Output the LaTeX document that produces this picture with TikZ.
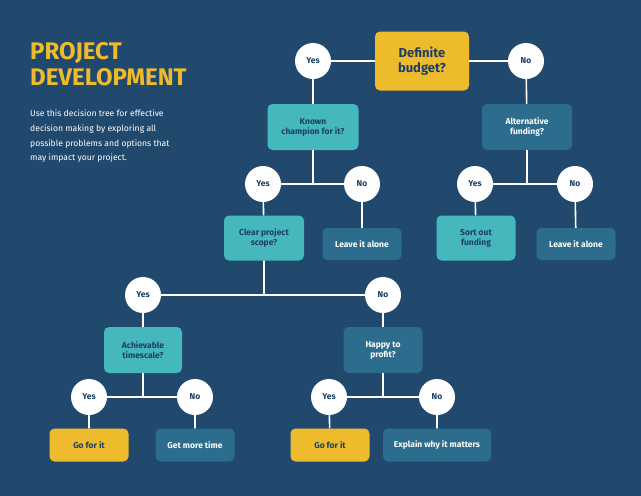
\documentclass[tikz,border=0pt]{standalone}
\usepackage{fontspec}
\setmainfont{Fira Sans}
\begin{document}
\begin{tikzpicture}[x=1pt,y=-1pt,
  box/.style={rounded corners=5pt,align=center,font=\fontsize{8.5}{10}\selectfont\bfseries,inner sep=0pt},
  tealbox/.style={box,fill=teal1,text=navy},
  bluebox/.style={box,fill=blue2,text=white},
  yelbox/.style={box,fill=yel,text=navy},
  ans/.style={circle,fill=white,text=navy,minimum size=36pt,inner sep=0pt,font=\fontsize{8.5}{10}\selectfont\bfseries},
  ln/.style={draw=white,line width=1.6pt}]
\definecolor{bg}{HTML}{21496D}
\definecolor{teal1}{HTML}{45B8BE}
\definecolor{blue2}{HTML}{2C6C8D}
\definecolor{yel}{HTML}{EEBB2C}
\definecolor{navy}{HTML}{1D3F63}
\fill[bg] (0,0) rectangle (641,496);
\useasboundingbox (0,0) rectangle (641,496);
\node[anchor=north west,text=yel,font=\fontsize{24}{26}\selectfont\bfseries,align=left,inner sep=0pt] (title) at (30,42) {PROJECT\\DEVELOPMENT};
\node[anchor=north west,text=white,font=\fontsize{8.6}{14.6}\selectfont,align=left,inner sep=0pt] (desc) at (30,110) {Use this decision tree for effective\\decision making by exploring all\\possible problems and options that\\may impact your project.};
% nodes
\node[yelbox,minimum width=94pt,minimum height=59pt,font=\fontsize{13}{15}\selectfont\bfseries] (bud) at (422,61) {Definite\\budget?};
\node[ans] (y1) at (313,61) {Yes};
\node[ans] (n1) at (526,61) {No};
\node[tealbox,minimum width=91pt,minimum height=46pt] (kc) at (313,127) {Known\\champion for it?};
\node[bluebox,minimum width=90pt,minimum height=46pt] (af) at (527,127) {Alternative\\funding?};
\coordinate (j1) at (313,184);
\coordinate (j2) at (527,184);
\node[ans] (y2) at (263,184) {Yes};
\node[ans] (n2) at (362,184) {No};
\node[ans] (y3) at (475,184) {Yes};
\node[ans] (n3) at (575,184) {No};
\node[tealbox,minimum width=80pt,minimum height=45pt] (cs) at (264,238) {Clear project\\scope?};
\node[bluebox,minimum width=79pt,minimum height=32pt] (la1) at (362,244) {Leave it alone};
\node[tealbox,minimum width=79pt,minimum height=45pt] (sf) at (476,238) {Sort out\\funding};
\node[bluebox,minimum width=79pt,minimum height=32pt] (la2) at (576,244) {Leave it alone};
\coordinate (j3) at (264,295);
\node[ans] (y4) at (143,295) {Yes};
\node[ans] (n4) at (383,295) {No};
\node[tealbox,minimum width=78pt,minimum height=46pt] (at) at (143,350) {Achievable\\timescale?};
\node[bluebox,minimum width=79pt,minimum height=46pt] (hp) at (383,350) {Happy to\\profit?};
\coordinate (j4) at (143,397);
\coordinate (j5) at (383,397);
\node[ans] (y5) at (89,397) {Yes};
\node[ans] (n5) at (195,397) {No};
\node[ans] (y6) at (329,397) {Yes};
\node[ans] (n6) at (437,397) {No};
\node[yelbox,minimum width=79pt,minimum height=33pt] (g1) at (89,445) {Go for it};
\node[bluebox,minimum width=79pt,minimum height=33pt] (gm) at (195,445) {Get more time};
\node[yelbox,minimum width=79pt,minimum height=33pt] (g2) at (330,445) {Go for it};
\node[bluebox,minimum width=108pt,minimum height=33pt] (ew) at (437,445) {Explain why it matters};
% connectors
\begin{scope}[on background layer/.style={}]
\end{scope}
\path[ln] (y1) -- (bud) (bud) -- (n1) (y1) -- (kc) (n1) -- (af)
  (kc) -- (j1) (y2) -- (n2) (af) -- (j2) (y3) -- (n3)
  (y2) -- (cs) (n2) -- (la1) (y3) -- (sf) (n3) -- (la2)
  (cs) -- (j3) (y4) -- (n4) (y4) -- (at) (n4) -- (hp)
  (at) -- (j4) (y5) -- (n5) (hp) -- (j5) (y6) -- (n6)
  (y5) -- (g1) (n5) -- (gm) (y6) -- (g2) (n6) -- (ew);
\end{tikzpicture}
\end{document}
